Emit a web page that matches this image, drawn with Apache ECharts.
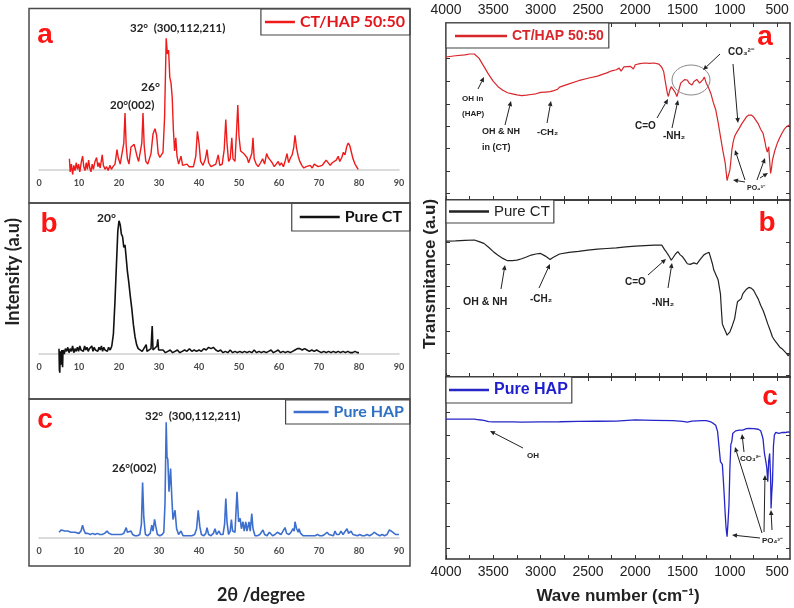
<!DOCTYPE html>
<html>
<head>
<meta charset="utf-8">
<title>XRD and FTIR of CT/HAP</title>
<script src="https://cdn.jsdelivr.net/npm/echarts@6.0.0/dist/echarts.min.js"></script>
<style>
  html, body { margin: 0; padding: 0; background: #fff; }
  #chart { width: 794px; height: 608px; }
</style>
</head>
<body>
<div id="chart"></div>
<script>
// XRD patterns: [2theta, intensity] with the tallest peak ~100
const xrdComposite = [
  [7.6,8],[7.8,-2],[8.1,4],[8.4,-4],[8.7,3],[9.0,-1],[9.3,5],[9.6,0],[9.9,4],[10.2,-2],[10.6,6],[10.9,10],
  [11.2,2],[11.5,-1],[11.8,5],[12.1,0],[12.4,7],[12.7,1],[13.0,-2],[13.3,4],[13.6,0],[14.0,6],[14.4,9],[14.7,2],
  [15.0,5],[15.3,1],[15.8,11],[16.1,3],[16.5,0],[16.9,2],[17.3,-1],[17.7,3],[18.1,0],[18.5,2],[19.0,4],[19.5,15],
  [19.8,9],[20.3,4],[20.8,3],[21.2,20],[21.5,43],[21.8,18],[22.1,8],[22.5,4],[23.0,17],[23.4,16],[23.8,19],[24.2,20],
  [24.5,10],[24.9,6],[25.3,5],[25.7,20],[26.0,43],[26.3,18],[26.7,6],[27.2,4],[27.6,5],[28.0,12],[28.5,27],[29.0,31],
  [29.4,26],[29.8,12],[30.2,9],[30.6,11],[31.0,13],[31.4,40],[31.8,100],[32.1,88],[32.4,91],[32.7,70],[33.0,66],[33.3,55],
  [33.6,30],[33.9,14],[34.2,24],[34.5,10],[34.9,4],[35.5,10],[35.9,3],[36.4,2],[37.0,4],[37.5,2],[38.0,3],[38.6,2],
  [39.2,10],[39.6,29],[40.0,20],[40.4,6],[41.0,3],[41.6,8],[42.0,15],[42.4,5],[43.0,2],[43.6,3],[44.2,4],[44.8,11],
  [45.2,3],[45.8,4],[46.3,15],[46.7,38],[47.0,20],[47.4,6],[47.8,8],[48.2,24],[48.5,8],[49.0,6],[49.4,30],[49.7,49],
  [50.0,25],[50.4,14],[50.8,13],[51.2,12],[51.6,13],[52.0,9],[52.4,5],[52.8,6],[53.2,12],[53.5,24],[53.8,8],[54.3,4],
  [54.8,2],[55.4,5],[55.9,8],[56.4,4],[56.9,12],[57.3,9],[57.8,7],[58.3,5],[58.8,2],[59.3,4],[59.8,6],[60.2,3],
  [60.6,5],[61.1,2],[61.6,7],[62.0,12],[62.4,5],[62.9,9],[63.3,11],[63.7,17],[64.0,26],[64.4,16],[64.8,10],[65.2,6],
  [65.7,3],[66.2,1],[66.8,2],[67.3,1],[67.8,3],[68.3,1],[68.8,4],[69.3,5],[69.8,2],[70.3,1],[70.8,3],[71.3,5],
  [71.8,7],[72.3,6],[72.8,3],[73.3,5],[73.8,4],[74.3,7],[74.8,10],[75.2,6],[75.7,9],[76.1,13],[76.5,11],[76.9,17],
  [77.3,20],[77.7,18],[78.1,13],[78.5,8],[79.0,4],[79.4,3],[79.8,0]
];
const xrdChitosan = [
  [5.0,4],[5.1,-12],[5.2,-14],[5.3,2],[5.5,-8],[5.7,3],[5.9,-10],[6.0,3],[6.3,0],[6.6,4],[6.9,2],[7.2,5],
  [7.5,1],[7.8,4],[8.1,2],[8.4,6],[8.7,1],[9.0,4],[9.3,2],[9.6,5],[9.9,2],[10.2,6],[10.5,3],[10.8,4],
  [11.1,2],[11.4,6],[11.7,3],[12.0,5],[12.3,2],[12.6,4],[12.9,3],[13.2,6],[13.5,2],[13.8,5],[14.1,3],[14.4,4],
  [14.7,2],[15.0,5],[15.3,3],[15.6,6],[15.9,2],[16.2,5],[16.5,3],[16.8,4],[17.1,2],[17.4,5],[17.8,3],[18.2,6],
  [18.6,15],[19.0,40],[19.4,70],[19.7,92],[20.0,100],[20.3,97],[20.6,90],[20.9,88],[21.2,80],[21.5,82],[21.8,72],[22.1,62],
  [22.4,55],[22.8,44],[23.2,34],[23.6,22],[24.0,13],[24.4,7],[24.8,4],[25.3,3],[25.8,2],[26.3,3],[26.8,7],[27.0,2],
  [27.5,3],[28.0,4],[28.3,21],[28.5,3],[29.0,2],[29.5,6],[29.7,11],[29.9,3],[30.4,2],[31.0,3],[31.6,1],[32.2,2],
  [32.8,3],[33.4,1],[34.0,2],[34.6,3],[35.2,1],[35.8,2],[36.4,3],[37.0,2],[37.6,4],[38.2,2],[38.8,3],[39.4,2],
  [40.0,3],[40.6,2],[41.2,4],[41.8,3],[42.4,5],[43.0,4],[43.6,5],[44.2,3],[44.8,2],[45.4,3],[46.0,1],[46.6,2],
  [47.2,1],[47.8,3],[48.4,1],[49.0,2],[49.6,1],[50.2,2],[50.8,1],[51.4,2],[52.0,1],[52.6,2],[53.2,1],[53.8,3],
  [54.4,1],[55.0,2],[55.6,1],[56.2,2],[56.8,1],[57.4,2],[58.0,3],[58.6,1],[59.2,2],[59.8,3],[60.4,1],[61.0,2],
  [61.6,1],[62.2,2],[62.8,1],[63.4,2],[64.0,3],[64.6,4],[65.2,4],[65.8,3],[66.4,4],[67.0,3],[67.6,2],[68.2,3],
  [68.8,2],[69.4,3],[70.0,2],[70.6,1],[71.2,2],[71.8,1],[72.4,2],[73.0,1],[73.6,2],[74.2,1],[74.8,2],[75.4,1],
  [76.0,2],[76.6,1],[77.2,2],[77.8,1],[78.4,1],[79.0,2],[79.6,1],[80.0,1]
];
const xrdHap = [
  [5.0,5],[5.3,6],[5.6,7],[6.0,8],[6.4,6],[6.8,5],[7.2,6],[7.6,5],[8.0,5],[8.5,4],[9.0,5],[9.5,5],
  [10.0,4],[10.5,6],[10.9,11],[11.2,7],[11.6,4],[12.2,4],[12.8,3],[13.4,4],[14.0,3],[14.6,4],[15.2,3],[15.8,3],
  [16.4,4],[17.0,6],[17.5,4],[18.2,3],[18.8,3],[19.4,3],[20.0,3],[20.6,3],[21.2,4],[21.8,9],[22.1,5],[22.6,4],
  [23.0,6],[23.4,3],[24.0,2],[24.6,2],[25.2,3],[25.6,12],[25.9,48],[26.2,18],[26.6,3],[27.2,2],[27.8,4],[28.2,11],
  [28.5,6],[28.9,16],[29.2,10],[29.6,3],[30.2,2],[30.8,3],[31.2,5],[31.5,30],[31.8,100],[32.0,70],[32.2,68],[32.5,40],
  [32.9,60],[33.2,35],[33.5,16],[34.0,24],[34.4,8],[34.9,3],[35.5,6],[36.0,2],[36.8,2],[37.5,2],[38.2,2],[38.9,3],
  [39.4,8],[39.8,24],[40.2,10],[40.6,3],[41.2,2],[41.7,4],[42.0,9],[42.4,3],[43.0,2],[43.6,4],[44.0,8],[44.4,3],
  [45.0,6],[45.4,3],[46.0,3],[46.4,12],[46.7,34],[47.0,14],[47.4,3],[47.8,6],[48.1,16],[48.4,6],[49.0,5],[49.5,40],
  [49.9,14],[50.3,17],[50.6,8],[51.0,14],[51.3,6],[51.7,14],[52.0,6],[52.5,14],[52.8,6],[53.2,21],[53.5,8],[54.0,2],
  [54.6,2],[55.2,3],[55.6,5],[56.0,7],[56.4,3],[57.0,2],[57.6,5],[58.0,6],[58.4,2],[59.0,3],[59.6,5],[60.0,6],
  [60.5,3],[61.0,4],[61.5,9],[61.9,4],[62.5,3],[63.0,5],[63.5,8],[63.8,6],[64.0,14],[64.4,8],[64.8,5],[65.0,8],
  [65.4,4],[66.0,2],[66.6,2],[67.2,2],[67.8,2],[68.4,2],[69.0,2],[69.6,3],[70.2,2],[70.8,2],[71.4,3],[72.0,5],
  [72.5,3],[73.0,3],[73.6,2],[74.0,6],[74.4,3],[75.0,3],[75.5,6],[76.0,3],[76.5,4],[77.0,8],[77.4,4],[78.0,6],
  [78.5,3],[79.0,2],[79.6,2],[80.2,3],[80.8,2],[81.4,2],[82.0,3],[82.6,2],[83.2,3],[83.8,5],[84.2,6],[84.6,3],
  [85.2,2],[85.8,3],[86.4,2],[87.0,3],[87.6,7],[88.0,6],[88.4,5],[88.8,6],[89.2,3],[89.6,2],[90.0,3]
];

// FTIR spectra: [wave number, transmittance (a.u., 0-100 of panel)]
const ftirComposite = [
  [4000,80.8],[3900,81.5],[3800,82],[3750,82.5],[3700,82.5],[3650,80],[3600,75.5],[3550,71],[3500,67],[3450,64],
  [3400,62],[3350,60.6],[3300,60],[3250,59.4],[3200,59],[3150,59.2],[3100,59.6],[3050,60],[3000,60.8],[2950,61],
  [2900,61.2],[2860,61.8],[2820,62.6],[2800,63.8],[2700,65.6],[2600,67.4],[2500,68.8],[2400,70],[2300,71.8],[2250,73],
  [2200,73.6],[2170,74.5],[2150,72.8],[2120,75.2],[2100,74.5],[2050,75.5],[2020,74],[2000,76.4],[1980,75.5],[1950,77],
  [1900,77.4],[1850,77.2],[1800,77.4],[1750,76.8],[1720,75],[1700,72.6],[1680,66],[1660,60],[1650,58.5],[1635,62],
  [1620,64],[1600,65],[1580,61],[1560,58.5],[1540,62],[1520,66],[1500,67],[1480,68],[1450,67.8],[1430,66],
  [1400,65],[1380,67],[1350,68.1],[1320,66],[1300,66.8],[1285,68],[1270,69.4],[1250,66],[1230,64],[1200,60],
  [1175,55],[1150,51],[1125,44],[1100,36],[1075,28],[1050,21],[1040,16],[1030,11],[1015,14],[1000,17],
  [990,22],[980,28],[965,33],[950,36],[925,38.5],[900,40.6],[875,43],[850,45],[825,47],[800,48],
  [775,48],[750,47],[725,45],[700,43],[675,40],[650,37.7],[630,33],[620,30],[605,27],[600,26],
  [590,30],[580,22],[570,15],[560,18],[550,22.6],[525,28],[500,32],[475,35],[450,37.7],[425,40],[400,41.5],[365,42.5]
];
const ftirChitosan = [
  [4000,76.8],[3900,76.9],[3800,77.2],[3700,77.4],[3650,76.5],[3600,75.5],[3550,73.3],[3500,70.8],[3450,68.8],[3400,67],
  [3350,65.7],[3300,65.7],[3250,66],[3200,66.8],[3150,67.8],[3100,68.9],[3050,69.5],[3000,69.8],[2950,68.3],[2900,66.4],
  [2870,67.5],[2850,68.3],[2800,69.5],[2700,70.4],[2600,71],[2500,71.7],[2400,72.2],[2300,72.6],[2200,73],[2100,73.5],
  [2000,73.9],[1900,74.2],[1800,74.5],[1720,74.5],[1690,72],[1670,70.5],[1650,68.9],[1635,67.5],[1620,66],[1600,67.5],
  [1575,69.5],[1550,70.8],[1525,69],[1500,67.9],[1475,66],[1450,64],[1420,63.6],[1400,63.2],[1380,64.5],[1365,63.8],
  [1350,63.8],[1320,66],[1300,67],[1275,69],[1250,69.8],[1220,70.4],[1200,70],[1185,64],[1170,60.4],[1150,59.4],
  [1125,55],[1100,47],[1090,38],[1080,30],[1065,28],[1050,27.4],[1040,25],[1030,23.6],[1015,24.5],[1000,25.5],
  [975,29],[950,33],[935,38],[920,42.5],[900,43.5],[880,44.3],[865,46.8],[850,48],[825,49.6],[800,50.6],
  [775,50.2],[750,49],[725,46.5],[700,44],[675,40.5],[650,37.7],[625,34],[600,30],[575,26.4],[550,22.6],
  [525,20.5],[500,18.9],[475,17],[450,16],[425,14.6],[400,13.2],[385,12],[370,13]
];
const ftirHap = [
  [4000,76.9],[3800,76.9],[3700,76.9],[3650,76.5],[3600,76.2],[3550,75.5],[3500,75.3],[3400,75.3],[3300,75.3],[3200,75.2],
  [3000,75.3],[2800,75.4],[2600,75.6],[2400,75.7],[2200,75.8],[2000,76.4],[1800,76.2],[1600,76],[1500,75.6],[1450,75.2],
  [1400,75.8],[1300,76],[1250,76],[1200,75.3],[1175,74.5],[1150,73.5],[1130,70],[1120,64.5],[1110,59],[1100,53.5],
  [1090,54.5],[1080,52],[1070,44],[1060,35],[1050,25],[1040,16.8],[1030,12.3],[1020,20],[1010,29.7],[1000,50],
  [990,63],[980,64.5],[970,69],[960,70],[940,70.4],[920,71.3],[900,70.8],[880,70.4],[865,70.8],[850,71.3],
  [825,71.6],[800,71.8],[750,71.6],[700,71.3],[675,70.5],[660,68],[650,66],[635,58],[620,53.5],[610,50],
  [600,42.5],[590,54],[580,58],[570,45],[565,27.8],[558,36],[550,42.5],[540,62],[530,68.1],[515,69.6],
  [500,69.8],[485,69],[470,68.1],[450,69.5],[430,70.3],[415,69.5],[400,69.2],[380,69.8],[365,69.6]
];

// axis ticks and labels
const xrdTickLabels = [0, 10, 20, 30, 40, 50, 60, 70, 80, 90];
const ftirTickValues = [500, 750, 1000, 1250, 1500, 1750, 2000, 2250, 2500, 2750, 3000, 3250, 3500, 3750, 4000];
const ftirLabelValues = [500, 1000, 1500, 2000, 2500, 3000, 3500, 4000];
const ftirYTicksA = [4, 16.4, 29.4, 41.8, 54.2, 67.2, 80.2];
const ftirYTicksB = [1.1, 13.6, 26, 38.6, 51.2, 63.8, 76.3];
const ftirYTicksC = [6, 18.1, 30.8, 42.9, 55.5, 68.1, 80.8];

const legendText = {
  xrdA: 'CT/HAP 50:50', xrdB: 'Pure CT', xrdC: 'Pure HAP',
  ftirA: 'CT/HAP 50:50', ftirB: 'Pure CT', ftirC: 'Pure HAP'
};

const chart = echarts.init(document.getElementById('chart'), null, { renderer: 'canvas' });

const LEFT_FONT = 'Lato, "Open Sans", sans-serif';
const RIGHT_FONT = '"Liberation Sans", Arial, sans-serif';

// left XRD grids: bottom edge is the zero baseline; right FTIR grids are boxed
const grids = [
  { left: 39, width: 360, top: 25.2, height: 144.1 },
  { left: 39, width: 360, top: 207.4, height: 146.6 },
  { left: 39, width: 360, top: 410.7, height: 127.3 },
  { left: 446, width: 344, top: 23, height: 177 },
  { left: 446, width: 344, top: 200, height: 177 },
  { left: 446, width: 344, top: 377, height: 182 }
];

const xAxes = [];
const yAxes = [];
for (let i = 0; i < 3; i++) {
  xAxes.push({
    gridIndex: i, type: 'value', min: 0, max: 90,
    axisLine: { onZero: false, lineStyle: { color: '#d0d0d0', width: 1.5 } },
    axisTick: { show: false },
    splitLine: { show: false },
    axisLabel: {
      customValues: xrdTickLabels, fontSize: 9, fontWeight: 'bold',
      color: '#4a4a4a', margin: 9, fontFamily: LEFT_FONT
    }
  });
  yAxes.push({ gridIndex: i, type: 'value', min: 0, max: 110, show: false });
}
const yTickSets = [ftirYTicksA, ftirYTicksB, ftirYTicksC];
for (let k = 0; k < 3; k++) {
  const g = 3 + k;
  ['bottom', 'top'].forEach(function (pos) {
    const showLab = (pos === 'top' && k === 0) || (pos === 'bottom' && k === 2);
    xAxes.push({
      gridIndex: g, type: 'value', position: pos, min: 365, max: 4000, inverse: true,
      axisLine: { show: true, onZero: false, lineStyle: { color: '#333', width: 1.5 } },
      axisTick: { show: true, inside: true, length: 4, customValues: ftirTickValues, lineStyle: { color: '#333', width: 1 } },
      splitLine: { show: false },
      axisLabel: {
        show: showLab, customValues: ftirLabelValues, fontSize: 14,
        color: '#222', margin: 6, fontFamily: RIGHT_FONT,
        formatter: function (v) { return String(v); }
      }
    });
  });
  ['left', 'right'].forEach(function (pos) {
    yAxes.push({
      gridIndex: g, type: 'value', position: pos, min: 0, max: 100,
      axisLine: { show: true, onZero: false, lineStyle: { color: '#333', width: 1.5 } },
      axisTick: { show: true, inside: true, length: 4, customValues: yTickSets[k], lineStyle: { color: '#333', width: 1 } },
      axisLabel: { show: false },
      splitLine: { show: false }
    });
  });
}
// xAxis index: 0-2 left, right panel k -> bottom 3+2k, top 4+2k
// yAxis index: 0-2 left, right panel k -> left 3+2k, right 4+2k

function trace(name, data, xi, yi, color, width, clip) {
  return {
    name: name, type: 'line', data: data, xAxisIndex: xi, yAxisIndex: yi,
    showSymbol: false, symbol: 'none', silent: true, clip: clip,
    lineStyle: { color: color, width: width }, itemStyle: { color: color }
  };
}

const series = [
  trace('xrdA', xrdComposite, 0, 0, '#f01a1a', 1.4, false),
  trace('xrdB', xrdChitosan, 1, 1, '#111111', 1.6, false),
  trace('xrdC', xrdHap, 2, 2, '#3d6fce', 1.6, false),
  trace('ftirA', ftirComposite, 3, 3, '#d8262a', 1.2, true),
  trace('ftirB', ftirChitosan, 5, 5, '#222222', 1.2, true),
  trace('ftirC', ftirHap, 7, 7, '#2626c8', 1.3, true)
];

function legendBox(name, pos, color, size, weight, font, iconW, padding) {
  return Object.assign({
    data: [name], orient: 'horizontal', icon: 'rect',
    itemWidth: iconW, itemHeight: 2.5, padding: padding,
    backgroundColor: '#fff', borderColor: '#444', borderWidth: 1.2,
    selectedMode: false,
    formatter: function (n) { return legendText[n]; },
    textStyle: { color: color, fontSize: size, fontWeight: weight, fontFamily: font }
  }, pos);
}

const legends = [
  legendBox('xrdA', { right: 384, top: 9 }, '#e3161b', 16, 'bold', LEFT_FONT, 30, [5, 5, 5, 4]),
  legendBox('xrdB', { right: 384, top: 203 }, '#111', 16, 'bold', LEFT_FONT, 40, [6, 8, 6, 8]),
  legendBox('xrdC', { right: 384, top: 400 }, '#2f72c4', 16, 'bold', LEFT_FONT, 35, [4, 6, 4, 8]),
  legendBox('ftirA', { left: 446, top: 23 }, '#d8262a', 14, 'bold', RIGHT_FONT, 52, [6, 5, 5, 9]),
  legendBox('ftirB', { left: 446, top: 200 }, '#222', 15, 'normal', RIGHT_FONT, 40, [4, 4, 4, 3]),
  legendBox('ftirC', { left: 446, top: 377 }, '#1f1fd0', 16, 'bold', RIGHT_FONT, 40, [5, 4, 5, 3])
];

// annotation helpers
function label(x, y, text, size, opts) {
  opts = opts || {};
  return {
    type: 'text', x: x, y: y, z: 20, silent: true, rotation: opts.rotation || 0,
    style: {
      text: text, fill: opts.fill || '#222', fontSize: size,
      fontWeight: opts.weight || 'bold', fontFamily: opts.font || RIGHT_FONT,
      align: opts.align || 'left', verticalAlign: 'middle'
    }
  };
}
function arrow(x1, y1, x2, y2) {
  const a = Math.atan2(y2 - y1, x2 - x1);
  const h = 5, w = 2.3;
  const bx = x2 - h * Math.cos(a), by = y2 - h * Math.sin(a);
  const px = -Math.sin(a) * w, py = Math.cos(a) * w;
  return [
    { type: 'line', z: 20, silent: true, shape: { x1: x1, y1: y1, x2: bx, y2: by }, style: { stroke: '#222', lineWidth: 1 } },
    { type: 'polygon', z: 20, silent: true, shape: { points: [[x2, y2], [bx + px, by + py], [bx - px, by - py]] }, style: { fill: '#222' } }
  ];
}
function panelLetter(x, y, t) {
  return label(x, y, t, 28, { fill: '#ff1414', align: 'center', font: RIGHT_FONT });
}
function frame(y, h) {
  return { type: 'rect', z: 15, silent: true, shape: { x: 29, y: y, width: 381, height: h },
    style: { fill: 'none', stroke: '#4a4a4a', lineWidth: 1.5 } };
}

const graphics = [
  frame(8.5, 194.5), frame(203, 196), frame(399, 167),
  panelLetter(45, 35, 'a'), panelLetter(49, 224, 'b'), panelLetter(45, 420, 'c'),
  panelLetter(765, 37, 'a'), panelLetter(767, 223, 'b'), panelLetter(770, 397, 'c'),
  // axis titles
  label(13, 272, 'Intensity (a.u)', 18, { font: LEFT_FONT, align: 'center', rotation: Math.PI / 2 }),
  label(430, 274, 'Transmitance (a.u)', 17, { align: 'center', rotation: Math.PI / 2 }),
  label(261, 595, '2θ /degree', 18, { font: LEFT_FONT, align: 'center' }),
  label(618, 596, 'Wave number (cm⁻¹)', 17, { align: 'center' }),
  // XRD peak labels
  label(130, 28, '32°  (300,112,211)', 11.5, { font: LEFT_FONT }),
  label(141, 87, '26°', 12, { font: LEFT_FONT }),
  label(110, 105, '20°(002)', 11.5, { font: LEFT_FONT }),
  label(97, 218, '20°', 12, { font: LEFT_FONT }),
  label(145, 416, '32°  (300,112,211)', 11.5, { font: LEFT_FONT }),
  label(112, 468, '26°(002)', 11.5, { font: LEFT_FONT }),
  // FTIR a
  label(462, 99, 'OH in', 8), label(462, 114, '(HAP)', 8),
  label(482, 132, 'OH & NH', 9), label(482, 148, 'in (CT)', 9),
  label(537, 132, '-CH₂', 9.5), label(635, 126, 'C=O', 10), label(663, 136, '-NH₂', 10),
  label(728, 52, 'CO₃²⁻', 10), label(747, 188, 'PO₄³⁻', 7),
  { type: 'ellipse', z: 20, silent: true, shape: { cx: 691, cy: 80, rx: 19, ry: 15 }, style: { fill: 'none', stroke: '#888', lineWidth: 1 } },
  // FTIR b
  label(463, 302, 'OH & NH', 10.5), label(530, 299, '-CH₂', 10),
  label(625, 282, 'C=O', 10), label(652, 303, '-NH₂', 10),
  // FTIR c
  label(527, 456, 'OH', 8), label(740, 459, 'CO₃²⁻', 8), label(762, 541, 'PO₄³⁻', 8)
].concat(
  arrow(478, 89, 484, 77), arrow(505, 125, 511, 101), arrow(547, 123, 551, 101),
  arrow(657, 118, 668, 99), arrow(672, 128, 678, 100), arrow(720, 54, 703, 70),
  arrow(733, 64, 738, 123), arrow(745, 182, 733, 180), arrow(745, 180, 735, 150),
  arrow(757, 180, 765, 158), arrow(760, 178, 768, 173),
  arrow(501, 289, 505, 265), arrow(539, 288, 550, 264), arrow(648, 275, 666, 259), arrow(668, 288, 672, 263),
  arrow(523, 448, 490, 431), arrow(744, 452, 742, 434),
  arrow(760, 538, 732, 535), arrow(762, 533, 735, 447), arrow(764, 532, 765, 475), arrow(772, 530, 771, 510)
);

chart.setOption({
  animation: false,
  backgroundColor: '#fff',
  grid: grids,
  xAxis: xAxes,
  yAxis: yAxes,
  legend: legends,
  series: series,
  graphic: graphics
});
</script>
</body>
</html>
